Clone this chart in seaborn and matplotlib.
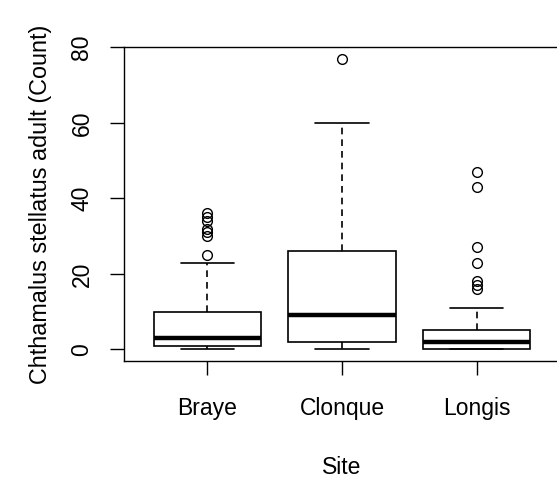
import matplotlib
matplotlib.use("Agg")
import matplotlib.pyplot as plt
import seaborn as sns
import pandas as pd

sites = ["Braye", "Clonque", "Longis"]
braye = [0, 0, 0, 0, 0, 0, 1, 1, 1, 1,
         1,
         1, 1, 2, 2, 2, 2, 3, 3, 3,
         3,
         3, 4, 4, 5, 6, 7, 8, 9, 10,
         10,
         12, 17, 23,
         25, 30, 31, 32, 34, 35, 36]
clonque = [0, 0, 1, 1, 2,
           2,
           3, 5, 6, 8,
           9,
           11, 14, 18, 22,
           26,
           30, 38, 45, 60,
           77]
longis = [0, 0, 0, 0, 0, 0, 0, 0, 0, 0,
          0,
          0, 0, 0, 1, 1, 1, 1, 2, 2,
          2,
          2, 2, 3, 3, 3, 4, 4, 4, 5,
          5,
          6, 8, 11,
          16, 17, 18, 23, 27, 43, 47]
yticks = [0, 20, 40, 60, 80]

df = pd.DataFrame({
    "Site": ["Braye"] * len(braye) + ["Clonque"] * len(clonque) + ["Longis"] * len(longis),
    "Count": braye + clonque + longis,
})

sns.set_style("ticks")
plt.rcParams["font.family"] = ["Liberation Sans", "DejaVu Sans"]
plt.rcParams["text.color"] = "black"
plt.rcParams["axes.labelcolor"] = "black"
plt.rcParams["xtick.color"] = "black"
plt.rcParams["ytick.color"] = "black"

fig = plt.figure(figsize=(5.57, 4.83), dpi=100)
ax = fig.add_axes([124 / 557, 1 - 361 / 483, 436 / 557, (361 - 47) / 483])

sns.boxplot(data=df, x="Site", y="Count", order=sites, ax=ax,
            color="white", linecolor="black", linewidth=1.2, width=0.8,
            whis=1.5,
            medianprops={"linewidth": 3.2, "color": "black"},
            whiskerprops={"linestyle": (0, (4, 3)), "color": "black"},
            capprops={"color": "black"},
            flierprops={"marker": "o", "markersize": 7, "markerfacecolor": "none",
                        "markeredgecolor": "black", "markeredgewidth": 1.0})

ax.set_xlim(-0.62, 2.62)
ax.set_ylim(-3.08, 80.08)
ax.set_yticks(yticks)
ax.set_yticklabels([str(v) for v in yticks], rotation=90, va="center", fontsize=16.5)
ax.tick_params(axis="y", length=10, width=1, pad=12, colors="black")
ax.tick_params(axis="x", length=10, width=1, pad=16, labelsize=16.5, colors="black")
for s in ax.spines.values():
    s.set_visible(True)
    s.set_linewidth(1.0)
    s.set_color("black")
ax.set_xlabel("Site", fontsize=16.5, labelpad=26, color="black")
ax.set_ylabel("Chthamalus stellatus adult (Count)", fontsize=16.8, labelpad=13, color="black")

fig.savefig("out.png", dpi=100)
